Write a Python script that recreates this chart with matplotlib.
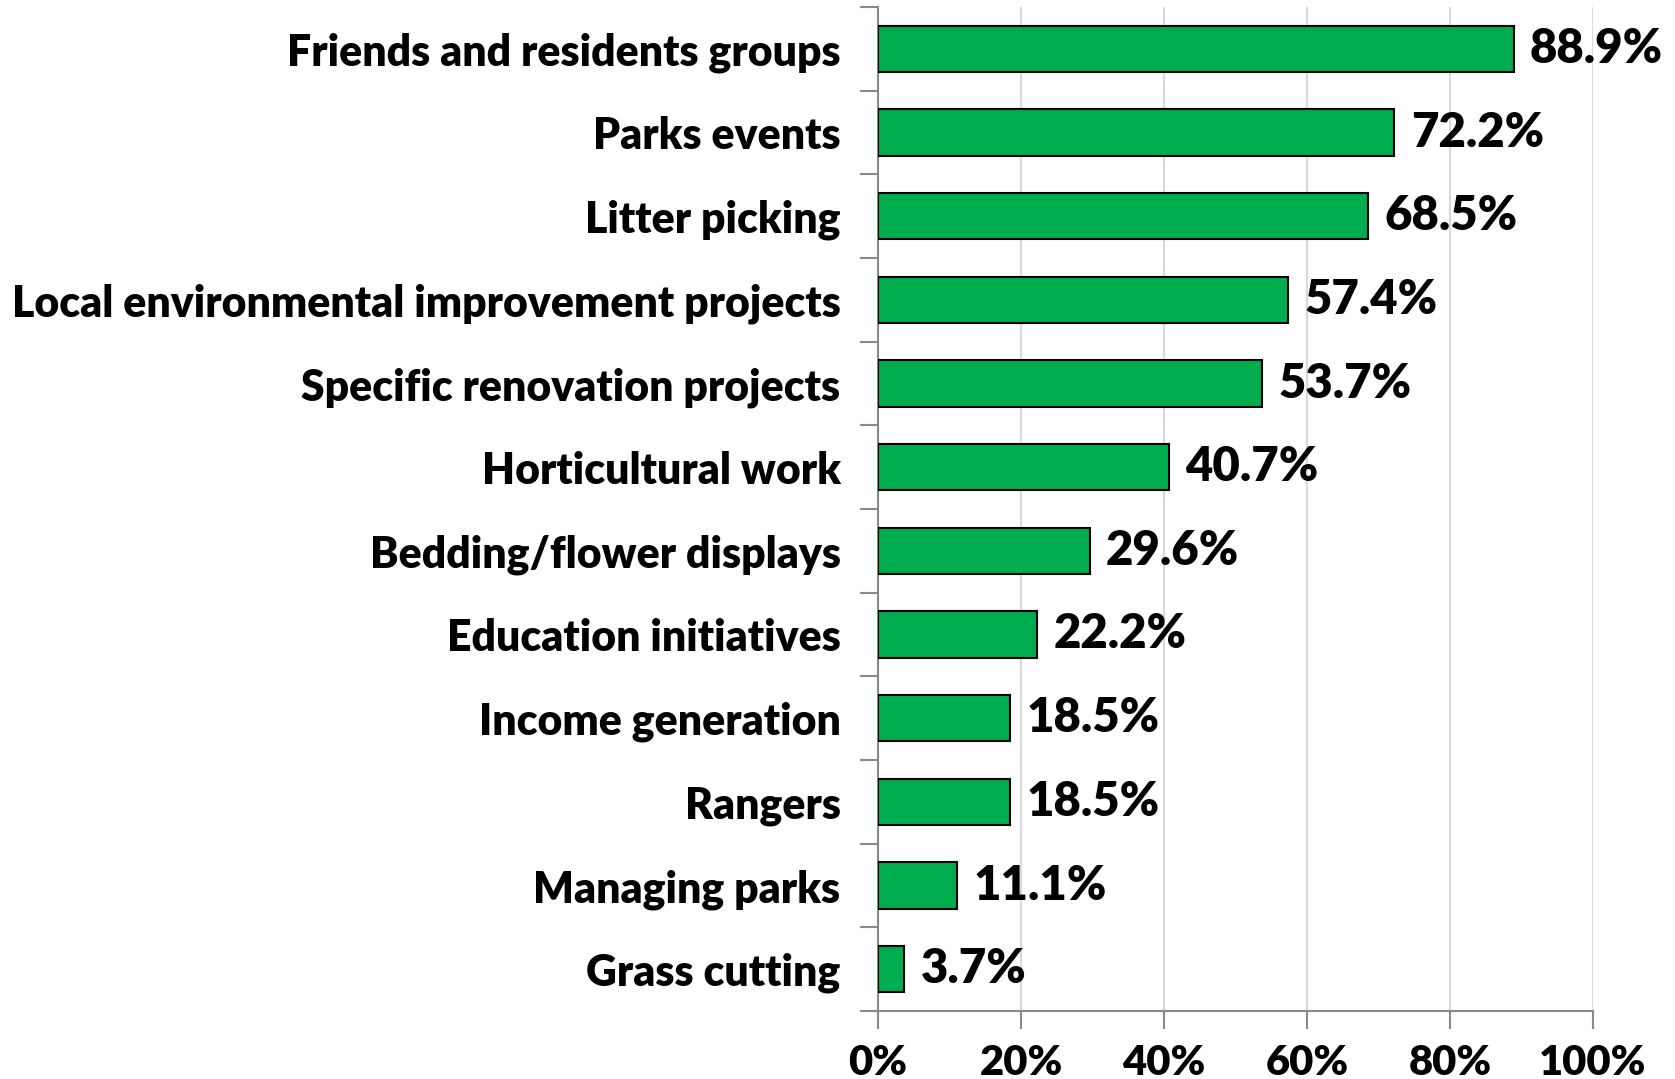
import matplotlib.pyplot as plt
from matplotlib.ticker import FuncFormatter

# categories and values (top to bottom as in the chart)
categories = ['Friends and residents groups', 'Parks events', 'Litter picking',
              'Local environmental improvement projects', 'Specific renovation projects',
              'Horticultural work', 'Bedding/flower displays', 'Education initiatives',
              'Income generation', 'Rangers', 'Managing parks', 'Grass cutting']
values = [88.9, 72.2, 68.5, 57.4, 53.7, 40.7, 29.6, 22.2, 18.5, 18.5, 11.1, 3.7]

plt.rcParams['font.family'] = ['Lato', 'DejaVu Sans']
plt.rcParams['font.weight'] = 'heavy'

fig = plt.figure(figsize=(16.75, 10.79), dpi=100)
ax = fig.add_axes([878 / 1675, 1 - 1011 / 1079, (1593 - 878) / 1675, (1011 - 7) / 1079])

pos = list(range(len(categories)))[::-1]
ax.barh(pos, values, height=0.55, color='#00ad4e', edgecolor='black', linewidth=1.5, zorder=3)

for p, v in zip(pos, values):
    ax.text(v + 2.3, p, f'{v:.1f}%', va='center', ha='left', fontsize=34, fontweight='heavy')

ax.set_xlim(0, 100)
ax.set_ylim(-0.5, len(categories) - 0.5)
ax.set_xticks([0, 20, 40, 60, 80, 100])
ax.xaxis.set_major_formatter(FuncFormatter(lambda x, _: f'{x:.0f}%'))
ax.set_yticks(pos)
ax.set_yticklabels(categories)
ax.set_yticks([p - 0.5 for p in range(len(categories) + 1)], minor=True)

ax.tick_params(axis='y', which='major', length=0, pad=27, labelsize=30.8)
ax.tick_params(axis='y', which='minor', length=13, width=1.5, color='#898989')
ax.tick_params(axis='x', length=13, width=1.5, color='#898989', labelsize=30, pad=11)

ax.grid(axis='x', color='#d9d9d9', linewidth=1.5, zorder=0)
for s in ['top', 'right']:
    ax.spines[s].set_visible(False)
for s in ['left', 'bottom']:
    ax.spines[s].set_color('#898989')
    ax.spines[s].set_linewidth(1.5)

fig.savefig('out.png', dpi=100)
